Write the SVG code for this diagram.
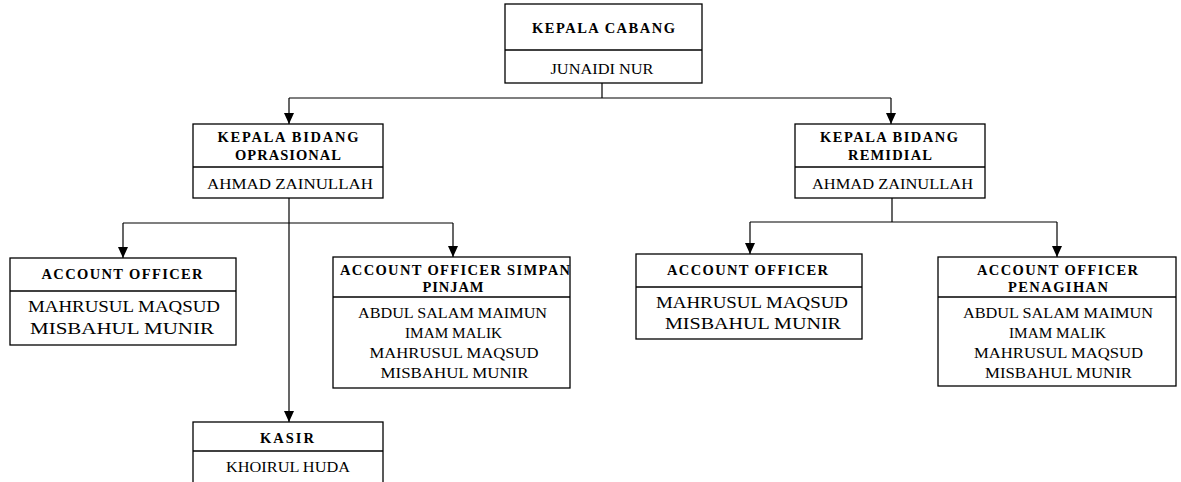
<svg xmlns="http://www.w3.org/2000/svg" width="1181" height="482" viewBox="0 0 1181 482">
<defs>
<marker id="ah" markerWidth="11" markerHeight="10" refX="11" refY="5" orient="auto" markerUnits="userSpaceOnUse" viewBox="0 0 11 10">
<path d="M0,0 L11,5 L0,10 Z" fill="#000"/>
</marker>
<style>
.box{fill:#fff;stroke:#000;stroke-width:1.3}
.div{stroke:#000;stroke-width:1.3}
.t{font-family:"Liberation Serif","Times New Roman",Times,"DejaVu Serif","Noto Serif",serif;font-weight:bold;font-size:14.5px;text-anchor:middle;fill:#000}
.n{font-family:"Liberation Serif","Times New Roman",Times,"DejaVu Serif","Noto Serif",serif;font-size:15.5px;text-anchor:middle;fill:#000}
.nl{font-size:17px}
.ns{font-size:15px}
.c{fill:none;stroke:#000;stroke-width:1.2}
.a{fill:none;stroke:#000;stroke-width:1.2;marker-end:url(#ah)}
</style>
</defs>
<rect width="1181" height="482" fill="#fff"/>
<g id="connectors">
<path class="c" d="M602,83 V98 M289,98 H891"/>
<path class="a" d="M289,98 V124"/>
<path class="a" d="M891,98 V124"/>
<path class="a" d="M289,198 V422"/>
<path class="c" d="M123,223 H453"/>
<path class="a" d="M123,223 V258"/>
<path class="a" d="M453,223 V257"/>
<path class="c" d="M892,198 V222 M750,222 H1057"/>
<path class="a" d="M750,222 V254"/>
<path class="a" d="M1057,222 V257"/>
</g>
<g id="kepala-cabang">
<rect class="box" x="505" y="4" width="197" height="79"/>
<line class="div" x1="505" y1="50" x2="702" y2="50"/>
<text class="t" x="603.5" y="33" textLength="143" lengthAdjust="spacing">KEPALA CABANG</text>
<text class="n" x="602" y="74" textLength="103" lengthAdjust="spacingAndGlyphs">JUNAIDI NUR</text>
</g>
<g id="kb-oprasional">
<rect class="box" x="193" y="124" width="190" height="74"/>
<line class="div" x1="193" y1="167" x2="383" y2="167"/>
<text class="t" x="288" y="142" textLength="141" lengthAdjust="spacing">KEPALA BIDANG</text>
<text class="t" x="288" y="160" textLength="106" lengthAdjust="spacing">OPRASIONAL</text>
<text class="n" x="290" y="189" textLength="166" lengthAdjust="spacingAndGlyphs">AHMAD ZAINULLAH</text>
</g>
<g id="kb-remidial">
<rect class="box" x="795" y="124" width="190" height="74"/>
<line class="div" x1="795" y1="167" x2="985" y2="167"/>
<text class="t" x="889" y="142" textLength="138" lengthAdjust="spacing">KEPALA BIDANG</text>
<text class="t" x="890" y="160" textLength="84" lengthAdjust="spacing">REMIDIAL</text>
<text class="n" x="892.5" y="189" textLength="161" lengthAdjust="spacingAndGlyphs">AHMAD ZAINULLAH</text>
</g>
<g id="ao-left">
<rect class="box" x="10" y="258" width="226" height="87"/>
<line class="div" x1="10" y1="291" x2="236" y2="291"/>
<text class="t" x="122" y="279" textLength="161" lengthAdjust="spacing">ACCOUNT OFFICER</text>
<text class="n nl" x="124" y="312" textLength="192" lengthAdjust="spacingAndGlyphs">MAHRUSUL MAQSUD</text>
<text class="n nl" x="122" y="334" textLength="184" lengthAdjust="spacingAndGlyphs">MISBAHUL MUNIR</text>
</g>
<g id="ao-simpan-pinjam">
<rect class="box" x="333" y="257" width="237" height="131"/>
<line class="div" x1="333" y1="297" x2="570" y2="297"/>
<text class="t" x="455" y="275" textLength="230" lengthAdjust="spacing">ACCOUNT OFFICER SIMPAN</text>
<text class="t" x="453" y="292" textLength="61" lengthAdjust="spacing">PINJAM</text>
<text class="n ns" x="452.5" y="318" textLength="189" lengthAdjust="spacingAndGlyphs">ABDUL SALAM MAIMUN</text>
<text class="n ns" x="453.5" y="338" textLength="97" lengthAdjust="spacingAndGlyphs">IMAM MALIK</text>
<text class="n ns" x="454" y="358" textLength="169" lengthAdjust="spacingAndGlyphs">MAHRUSUL MAQSUD</text>
<text class="n ns" x="454.5" y="378" textLength="148" lengthAdjust="spacingAndGlyphs">MISBAHUL MUNIR</text>
</g>
<g id="ao-right">
<rect class="box" x="636" y="254" width="226" height="85"/>
<line class="div" x1="636" y1="287" x2="862" y2="287"/>
<text class="t" x="747.5" y="275" textLength="161" lengthAdjust="spacing">ACCOUNT OFFICER</text>
<text class="n nl" x="752" y="308" textLength="192" lengthAdjust="spacingAndGlyphs">MAHRUSUL MAQSUD</text>
<text class="n nl" x="753" y="329" textLength="176" lengthAdjust="spacingAndGlyphs">MISBAHUL MUNIR</text>
</g>
<g id="ao-penagihan">
<rect class="box" x="938" y="257" width="238" height="129"/>
<line class="div" x1="938" y1="297" x2="1176" y2="297"/>
<text class="t" x="1057.5" y="275" textLength="161" lengthAdjust="spacing">ACCOUNT OFFICER</text>
<text class="t" x="1058" y="292" textLength="100" lengthAdjust="spacing">PENAGIHAN</text>
<text class="n ns" x="1058" y="318" textLength="190" lengthAdjust="spacingAndGlyphs">ABDUL SALAM MAIMUN</text>
<text class="n ns" x="1057.5" y="338" textLength="97" lengthAdjust="spacingAndGlyphs">IMAM MALIK</text>
<text class="n ns" x="1058.5" y="358" textLength="169" lengthAdjust="spacingAndGlyphs">MAHRUSUL MAQSUD</text>
<text class="n ns" x="1058.5" y="378" textLength="147" lengthAdjust="spacingAndGlyphs">MISBAHUL MUNIR</text>
</g>
<g id="kasir">
<rect class="box" x="193" y="422" width="190" height="70"/>
<line class="div" x1="193" y1="451" x2="383" y2="451"/>
<text class="t" x="287" y="443" textLength="54" lengthAdjust="spacing">KASIR</text>
<text class="n" x="288" y="472" textLength="124" lengthAdjust="spacingAndGlyphs">KHOIRUL HUDA</text>
</g>
</svg>
